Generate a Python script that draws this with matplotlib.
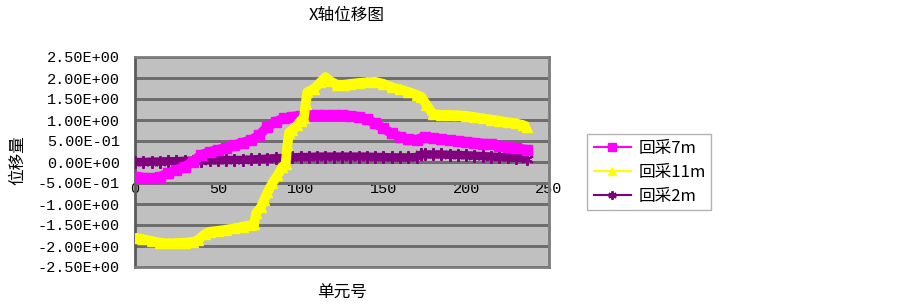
import numpy as np
import matplotlib
matplotlib.use('Agg')
import matplotlib.pyplot as plt

plt.rcParams['font.family'] = ['Noto Sans CJK SC', 'DejaVu Sans']

# chart data
title = 'X轴位移图'
x_label = '单元号'
y_label = '位移量'

x_7m = [0, 5, 10, 15, 20, 25, 30, 35, 40, 45, 50, 55, 60, 65, 70, 75, 80, 85,
        90, 95, 100, 105, 110, 115, 120, 125, 130, 135, 140, 145, 150, 155,
        160, 165, 170, 175, 180, 185, 190, 195, 200, 205, 210, 215, 220, 225,
        230, 237]
y_7m = [-0.35, -0.37, -0.39, -0.35, -0.27, -0.19, -0.11, 0.01, 0.17, 0.24,
        0.29, 0.34, 0.40, 0.46, 0.52, 0.64, 0.84, 0.96, 1.04, 1.08, 1.10,
        1.12, 1.12, 1.12, 1.12, 1.12, 1.10, 1.08, 1.02, 0.92, 0.80, 0.68,
        0.60, 0.54, 0.53, 0.60, 0.56, 0.54, 0.52, 0.50, 0.48, 0.46, 0.44,
        0.42, 0.39, 0.36, 0.33, 0.29]

x_11m = [0, 5, 10, 15, 20, 25, 30, 35, 38, 42, 45, 50, 55, 60, 65, 70, 72,
         73, 76, 78, 80, 83, 86, 89, 91, 92, 93, 95, 98, 100, 102, 103, 104,
         108, 112, 115, 118, 122, 126, 130, 135, 140, 145, 150, 155, 160, 165,
         170, 173, 176, 180, 185, 190, 195, 200, 205, 210, 215, 220, 225, 230,
         234, 237]
y_11m = [-1.80, -1.84, -1.88, -1.92, -1.94, -1.93, -1.92, -1.90, -1.86, -1.72,
         -1.66, -1.64, -1.61, -1.58, -1.54, -1.50, -1.48, -1.22, -1.08, -0.90,
         -0.72, -0.50, -0.32, -0.12, -0.04, 0.40, 0.70, 0.76, 0.88, 0.98, 1.05,
         1.38, 1.66, 1.74, 1.90, 2.02, 1.92, 1.84, 1.84, 1.86, 1.88, 1.90,
         1.91, 1.86, 1.78, 1.73, 1.67, 1.60, 1.55, 1.36, 1.14, 1.12, 1.12,
         1.11, 1.10, 1.07, 1.04, 1.01, 0.98, 0.95, 0.92, 0.88, 0.84]

x_2m = [0, 5, 10, 15, 20, 25, 30, 35, 40, 45, 50, 55, 60, 65, 70, 75, 80, 85,
        90, 95, 100, 105, 110, 115, 120, 125, 130, 135, 140, 145, 150, 155,
        160, 165, 170, 173, 175, 180, 185, 190, 195, 200, 205, 210, 215, 220,
        225, 230, 237]
y_2m = [0.00, 0.00, 0.01, 0.01, 0.02, 0.02, 0.03, 0.03, 0.03, 0.04, 0.04,
        0.05, 0.05, 0.05, 0.06, 0.07, 0.08, 0.09, 0.10, 0.11, 0.12, 0.12,
        0.13, 0.13, 0.13, 0.13, 0.13, 0.13, 0.13, 0.12, 0.12, 0.11, 0.11,
        0.11, 0.12, 0.18, 0.18, 0.18, 0.18, 0.17, 0.17, 0.16, 0.15, 0.14,
        0.13, 0.12, 0.11, 0.10, 0.08]

series_names = ['回采7m', '回采11m', '回采2m']
x_ticks = [0, 50, 100, 150, 200, 250]
y_ticks = [-2.5, -2.0, -1.5, -1.0, -0.5, 0.0, 0.5, 1.0, 1.5, 2.0, 2.5]

num_font = 'Liberation Mono'
grid_col = '#6e6e6e'

fig = plt.figure(figsize=(9.03, 3.05), dpi=100)
ax = fig.add_axes([135 / 903, 38 / 305, 414 / 903, 210 / 305])
ax.set_facecolor('#c0c0c0')
ax.set_xlim(0, 250)
ax.set_ylim(-2.5, 2.5)

# horizontal gridlines (Excel style), drawn as crisp 1px lines
ax.hlines(y_ticks, 0, 250, colors=grid_col, linewidths=1.0, zorder=2,
          snap=True, antialiased=False)

ax.plot(x_2m, y_2m, color='#800080', lw=6, marker=(6, 2, 0), ms=9, mew=1.5,
        label=series_names[2], solid_capstyle='butt', zorder=3)
ax.plot(x_7m, y_7m, color='#ff00ff', lw=7, marker='s', ms=7,
        label=series_names[0], solid_capstyle='butt', zorder=4)
ax.plot(x_11m, y_11m, color='#ffff00', lw=7, marker='^', ms=7,
        label=series_names[1], solid_capstyle='butt', zorder=5)

ax.set_yticks(y_ticks)
ax.set_yticklabels(['{:.2E}'.format(v) for v in y_ticks], family=num_font,
                   fontsize=11)
ax.set_xticks(x_ticks)
ax.set_xticklabels([str(v) for v in x_ticks], family=num_font, fontsize=11)
ax.tick_params(axis='y', length=0, pad=11)
# x labels sit just under the zero line, like the Excel original
ax.tick_params(axis='x', length=0, pad=-61)

ax.spines['left'].set_color('#5a5a5a')
ax.spines['left'].set_linewidth(2)
for side in ['top', 'right', 'bottom']:
    ax.spines[side].set_color('#7c7c7c')
    ax.spines[side].set_linewidth(2)

fig.text(347 / 903, 1 - 15 / 305, title, ha='center', va='center',
         fontsize=12)
fig.text(342 / 903, 1 - 293 / 305, x_label, ha='center', va='center',
         fontsize=12)
fig.text(18 / 903, 1 - 160 / 305, y_label, ha='center', va='center',
         rotation=90, fontsize=12)

handles, labels = ax.get_legend_handles_labels()
order = [1, 2, 0]
leg = fig.legend([handles[i] for i in order], [labels[i] for i in order],
                 loc='upper left', bbox_to_anchor=(579 / 903, 1 - 126 / 305),
                 frameon=True, fancybox=False, fontsize=12, handlelength=2.3,
                 borderpad=0.35, labelspacing=0.4, handletextpad=0.4)
leg.get_frame().set_edgecolor('#a0a0a0')
for line in leg.get_lines():
    line.set_linewidth(1.5)
    line.set_markersize(6)

fig.savefig('out.png', dpi=100)
